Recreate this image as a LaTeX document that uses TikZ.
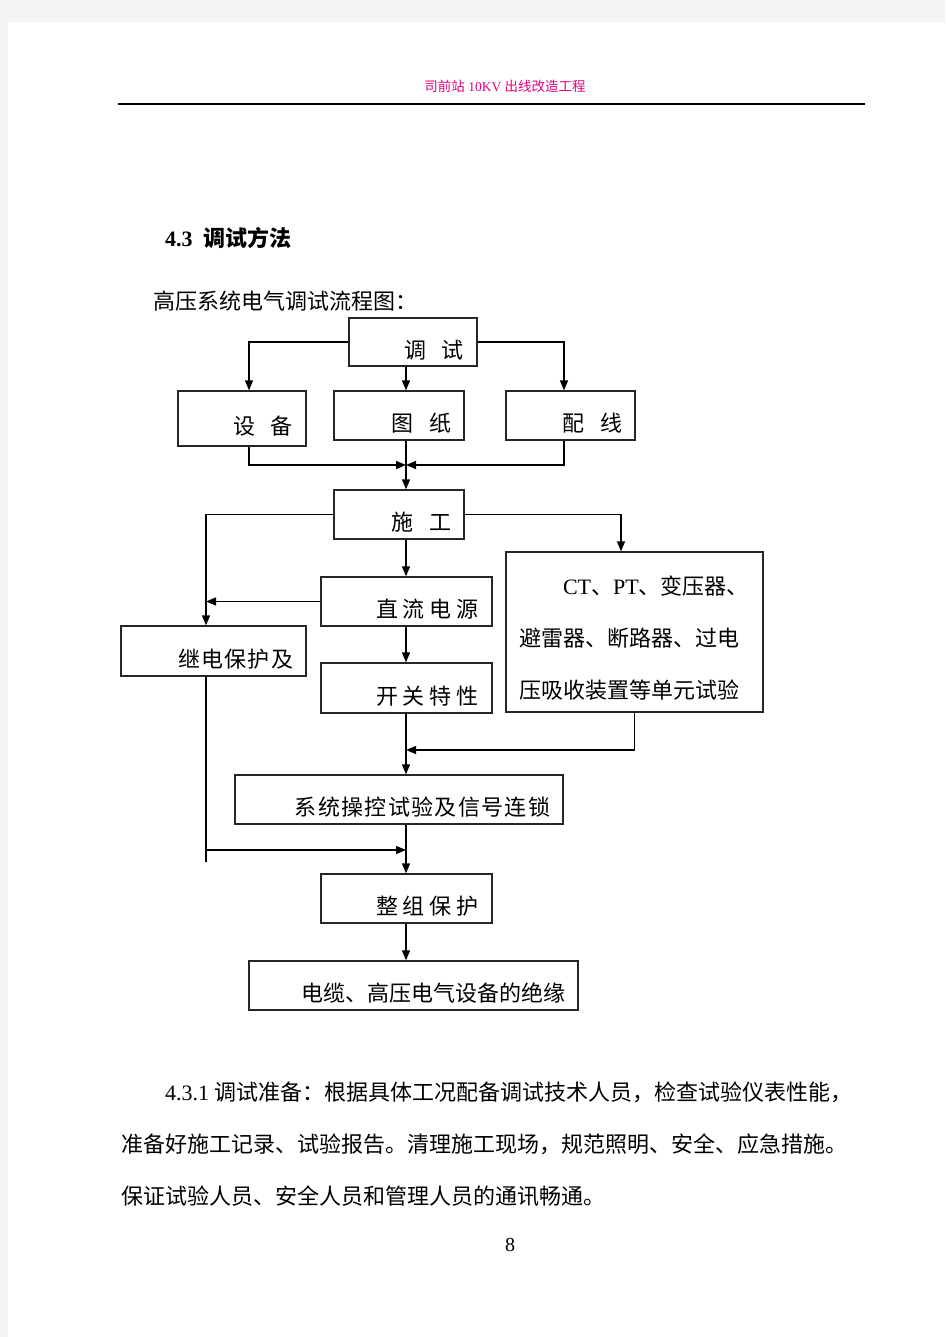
\documentclass[tikz,border=0pt]{standalone}
\usepackage{fontspec}
\setmainfont{Liberation Serif}
\newfontfamily\cjk{Noto Sans CJK SC}
\usetikzlibrary{arrows.meta}
\definecolor{pagegray}{RGB}{243,243,243}
\definecolor{headpink}{RGB}{228,0,127}
\newcommand{\wgap}{\hspace{16pt}}
\newcommand{\ngap}{\hspace{5pt}}

\begin{document}
\begin{tikzpicture}[
    x=1pt, y=-1pt,
    frame/.style={draw=black!85, line width=1.3pt},
    box/.style={frame, inner xsep=13pt, inner ysep=0pt, text height=34pt, text depth=2pt,
                align=right, font=\cjk\fontsize{22}{26}\selectfont},
    arr/.style={line width=1.35pt, -{Triangle[length=10pt,width=8pt]}},
    ln/.style={line width=1.35pt},
    txt/.style={inner sep=0pt, anchor=west, font=\cjk\fontsize{22}{26}\selectfont},
]
  \useasboundingbox (0,0) rectangle (945,1337);
  % page margins and header
  \fill[pagegray] (0,0) rectangle (945,22);
  \fill[pagegray] (0,0) rectangle (8,1337);
  \node [inner sep=0pt, text=headpink, font=\cjk\fontsize{13.5}{16}\selectfont]
        (header) at (505,86) {司前站{\rmfamily\ 10KV\ }出线改造工程};
  \draw [line width=1.4pt] (118,104) -- (865,104);

  \node [txt] (title) at (165,238) {{\rmfamily\bfseries 4.3}\hspace{11pt}{\bfseries 调试方法}};
  \node [txt] (intro) at (153,301) {高压系统电气调试流程图：};

  % flow chart boxes
  \node [box, text width=102pt, minimum height=48pt] (tiaoshi) at (413,342)   {调\wgap 试};
  \node [box, text width=102pt, minimum height=55pt] (shebei)  at (242,418.5) {设\wgap 备};
  \node [box, text width=104pt, minimum height=49pt] (tuzhi)   at (399,415.5) {图\wgap 纸};
  \node [box, text width=103pt, minimum height=49pt] (peixian) at (570.5,415.5) {配\wgap 线};
  \node [box, text width=104pt, minimum height=49pt] (shigong) at (399,514.5) {施\wgap 工};
  \node [box, text width=145pt, minimum height=49pt] (zhiliu)  at (406.5,601.5) {直\ngap 流\ngap 电\ngap 源};
  \node [box, text width=159pt, minimum height=50pt,
         font=\cjk\fontsize{22}{26}\selectfont\addfontfeature{LetterSpace=5}] (jidian) at (213.5,651) {继电保护及};
  \node [box, text width=145pt, minimum height=50pt] (kaiguan) at (406.5,688) {开\ngap 关\ngap 特\ngap 性};
  \node [frame, text width=231pt, inner xsep=13pt, inner ysep=0pt, minimum height=160pt,
         align=left, font=\cjk\fontsize{22}{52}\selectfont]
        (ctbox) at (634.5,632)
        {\rule{0pt}{31pt}\hspace*{44pt}{\rmfamily CT}、{\rmfamily PT}、变压器、\\
         避雷器、断路器、过电\\
         压吸收装置等单元试验};
  \node [box, text width=302pt, minimum height=49pt,
         font=\cjk\fontsize{22}{26}\selectfont\addfontfeature{LetterSpace=6}] (xitong) at (399,799.5) {系统操控试验及信号连锁};
  \node [box, text width=145pt, minimum height=49pt] (zhengzu) at (406.5,898.5) {整\ngap 组\ngap 保\ngap 护};
  \node [box, text width=303pt, minimum height=49pt] (dianlan) at (413.5,985.5) {电缆、高压电气设备的绝缘};

  % junctions
  \coordinate (spine)   at (406,0);
  \coordinate (leftcol) at (206,0);
  \coordinate (merge)   at (406,465);
  \coordinate (ctjoin)  at (406,750);
  \coordinate (jdturn)  at (206,850);
  \coordinate (jdend)   at (206,862);

  % connectors
  \draw [arr] (tiaoshi.west) -| ([xshift=7pt]shebei.north);
  \draw [arr] (tiaoshi.south -| spine) -- (tuzhi.north -| spine);
  \draw [arr] (tiaoshi.east) -| ([xshift=-6.5pt]peixian.north);
  \draw [arr] ([xshift=7pt]shebei.south) |- (merge);
  \draw [arr] ([xshift=-6.5pt]peixian.south) |- (merge);
  \draw [arr] (tuzhi.south -| spine) -- (shigong.north -| spine);
  \draw [arr] (shigong.west) -| (jidian.north -| leftcol);
  \draw [arr] (shigong.east) -| ([xshift=-13.5pt]ctbox.north);
  \draw [arr] (shigong.south -| spine) -- (zhiliu.north -| spine);
  \draw [arr] (zhiliu.west) -- (zhiliu.west -| leftcol);
  \draw [arr] (zhiliu.south -| spine) -- (kaiguan.north -| spine);
  \draw [arr] (kaiguan.south -| spine) -- (xitong.north -| spine);
  \draw [arr] (ctbox.south) |- (ctjoin);
  \draw [ln]  (jidian.south -| leftcol) -- (jdend);
  \draw [arr] (jdturn) -- (jdturn -| spine);
  \draw [arr] (xitong.south -| spine) -- (zhengzu.north -| spine);
  \draw [arr] (zhengzu.south -| spine) -- (dianlan.north -| spine);

  % text below the chart
  \node [txt] (para1) at (165,1092) {{\rmfamily 4.3.1} 调试准备：根据具体工况配备调试技术人员，检查试验仪表性能，};
  \node [txt] (para2) at (121,1144) {准备好施工记录、试验报告。清理施工现场，规范照明、安全、应急措施。};
  \node [txt] (para3) at (121,1196) {保证试验人员、安全人员和管理人员的通讯畅通。};
  \node [inner sep=0pt, font=\rmfamily\fontsize{20}{24}\selectfont] (pageno) at (510,1245) {8};
\end{tikzpicture}
\end{document}
